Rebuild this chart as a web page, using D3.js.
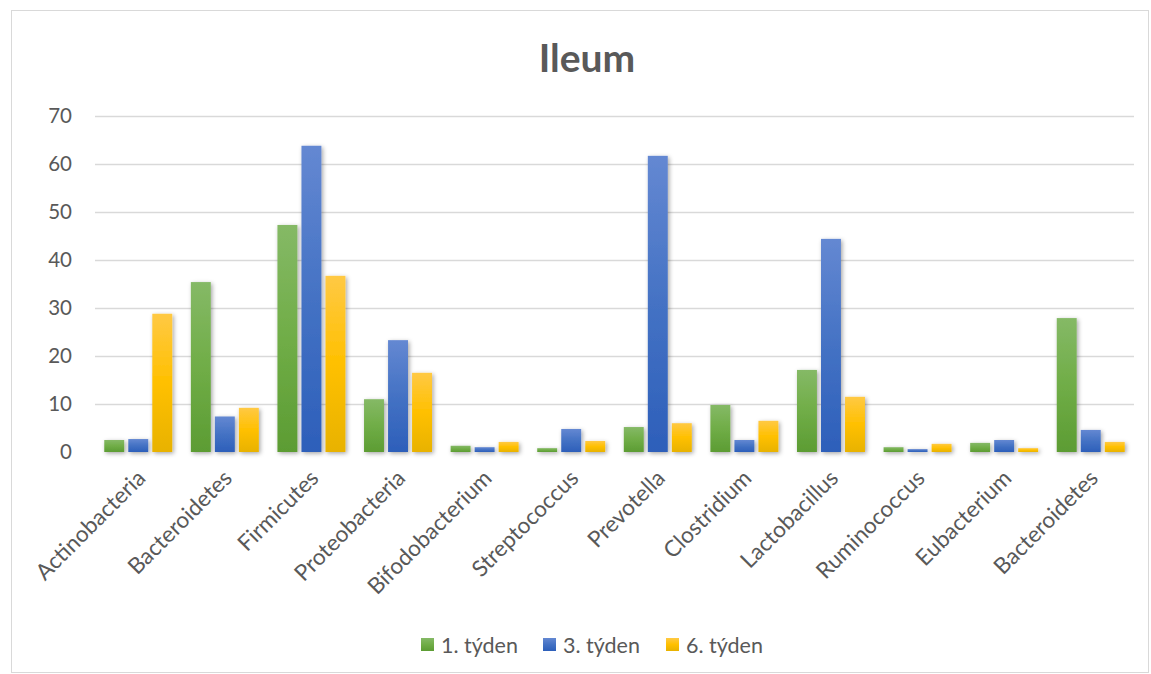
<!DOCTYPE html>
<html>
<head>
<meta charset="utf-8">
<script src="https://cdn.jsdelivr.net/npm/d3@7"></script>
<style>
  body { margin: 0; background: #fff; }
  svg text { font-family: Lato, "Open Sans", sans-serif; fill: #595959; }
</style>
</head>
<body>
<div id="chart"></div>
<script>
// data
const categories = ["Actinobacteria", "Bacteroidetes", "Firmicutes", "Proteobacteria", "Bifodobacterium",
  "Streptococcus", "Prevotella", "Clostridium", "Lactobacillus", "Ruminococcus", "Eubacterium", "Bacteroidetes"];
const seriesNames = ["1. týden", "3. týden", "6. týden"];
const week1 = [2.5, 35.4, 47.3, 11.0, 1.3, 0.8, 5.2, 9.8, 17.1, 1.0, 1.9, 27.9];
const week3 = [2.7, 7.4, 63.8, 23.3, 1.0, 4.8, 61.7, 2.5, 44.4, 0.6, 2.5, 4.6];
const week6 = [28.8, 9.2, 36.7, 16.5, 2.1, 2.3, 6.0, 6.5, 11.5, 1.7, 0.8, 2.1];
const yTicks = [0, 10, 20, 30, 40, 50, 60, 70];

const W = 1151, H = 674;
const margin = {left: 95, right: 17, top: 116, bottom: 222};

const svg = d3.select("#chart").append("svg").attr("width", W).attr("height", H);
const defs = svg.append("defs");

// excel-like gradients (light top, base middle, dark bottom)
const grads = [
  ["g0", "#85b966", "#70ad47", "#5c9c33"],
  ["g1", "#6488d2", "#4472c4", "#2d5fba"],
  ["g2", "#ffc944", "#ffc000", "#e8b200"]
];
grads.forEach(([id, a, b, c]) => {
  let lg = defs.append("linearGradient").attr("id", id).attr("x1", 0).attr("y1", 0).attr("x2", 0).attr("y2", 1);
  lg.append("stop").attr("offset", "0%").attr("stop-color", a);
  lg.append("stop").attr("offset", "50%").attr("stop-color", b);
  lg.append("stop").attr("offset", "100%").attr("stop-color", c);
});
let f = defs.append("filter").attr("id", "shadow").attr("x", "-50%").attr("y", "-10%").attr("width", "200%").attr("height", "130%");
f.append("feDropShadow").attr("dx", 1.5).attr("dy", 1.5).attr("stdDeviation", 2)
  .attr("flood-color", "#000").attr("flood-opacity", 0.35);

// chart frame
svg.append("rect").attr("x", 11.5).attr("y", 10.5).attr("width", 1137).attr("height", 662)
  .attr("fill", "#fff").attr("stroke", "#d9d9d9");

svg.append("text").attr("x", 587).attr("y", 72).attr("text-anchor", "middle")
  .style("font-size", "39px").style("font-weight", "bold").text("Ileum");

const idx = d3.range(categories.length);
const x = d3.scaleBand().domain(idx).range([margin.left, W - margin.right]).paddingInner(0.215).paddingOuter(0.107);
const xs = d3.scaleBand().domain([0, 1, 2]).range([0, x.bandwidth()]).paddingInner(0.17);
const y = d3.scaleLinear().domain([0, 70]).range([H - margin.bottom, margin.top]);

// gridlines
svg.append("g").selectAll("line").data(yTicks.slice(1)).enter().append("line")
  .attr("x1", margin.left).attr("x2", W - margin.right)
  .attr("y1", d => y(d) + 0.5).attr("y2", d => y(d) + 0.5)
  .attr("stroke", "#d9d9d9").attr("stroke-width", 1.3);

// y labels
svg.append("g").selectAll("text").data(yTicks).enter().append("text")
  .attr("x", 72).attr("y", d => y(d)).attr("dy", "0.36em").attr("text-anchor", "end")
  .style("font-size", "20.5px").text(d => d);

// bars
const series = [week1, week3, week6];
const groups = svg.append("g").selectAll("g").data(series).enter().append("g")
  .attr("fill", (d, i) => `url(#g${i})`).attr("filter", "url(#shadow)");
groups.each(function (vals, si) {
  d3.select(this).selectAll("rect").data(vals).enter().append("rect")
    .attr("x", (d, i) => x(i) + xs(si))
    .attr("width", xs.bandwidth())
    .attr("y", d => y(d))
    .attr("height", d => y(0) - y(d));
});

// axis baseline
svg.append("line").attr("x1", margin.left).attr("x2", W - margin.right)
  .attr("y1", y(0) + 1).attr("y2", y(0) + 1)
  .attr("stroke", "#d0d0d0").attr("stroke-width", 2).attr("filter", "url(#shadow)");

// category labels, rotated
svg.append("g").selectAll("text").data(idx).enter().append("text")
  .attr("transform", i => `translate(${x(i) + x.bandwidth() / 2 + 3},${y(0) + 22}) rotate(-45)`)
  .attr("text-anchor", "end").attr("dy", "0.35em")
  .style("font-size", "22.5px").text(i => categories[i]);

// legend
const legX = [421, 543, 666];
const leg = svg.append("g").selectAll("g").data(seriesNames).enter().append("g")
  .attr("transform", (d, i) => `translate(${legX[i]},638)`);
leg.append("rect").attr("width", 13).attr("height", 13).attr("fill", (d, i) => `url(#g${i})`);
leg.append("text").attr("x", 20).attr("y", 14.5).style("font-size", "21.5px").text(d => d);
</script>
</body>
</html>
